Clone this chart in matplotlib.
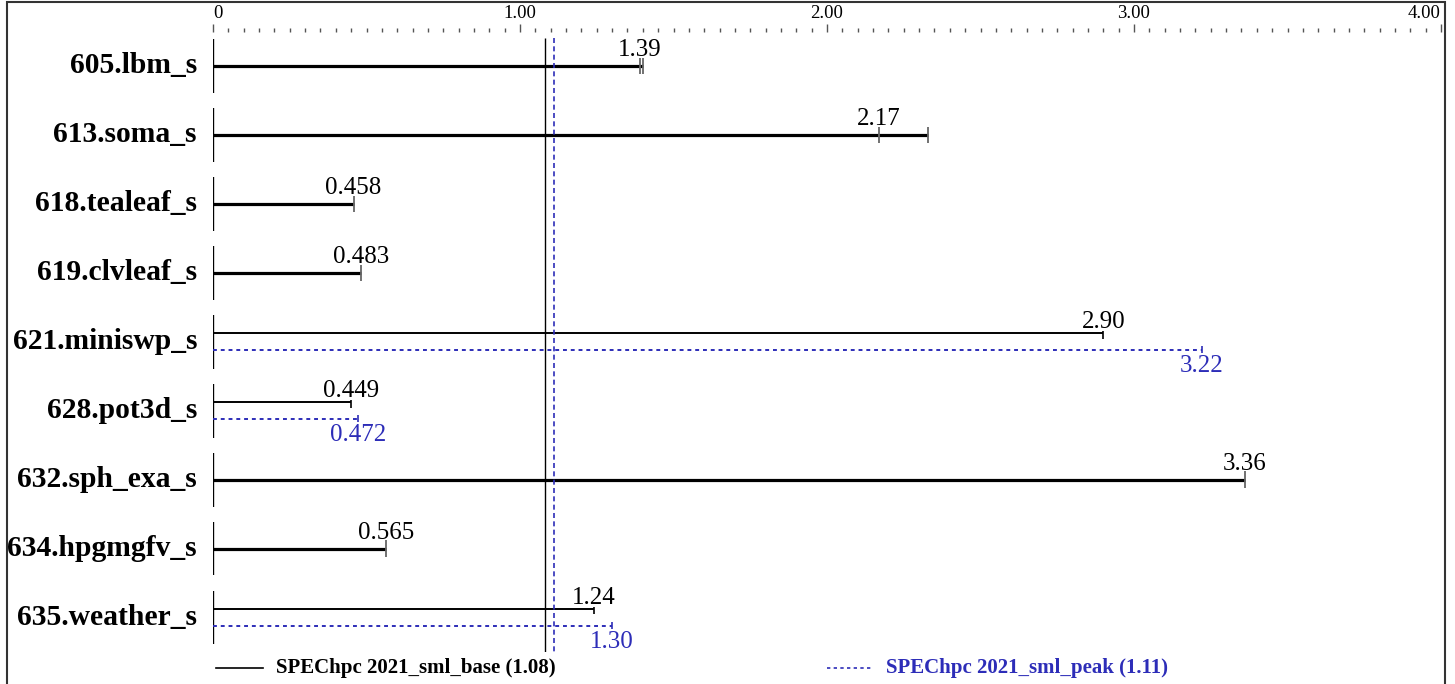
import matplotlib
matplotlib.use("Agg")
import matplotlib.pyplot as plt
from matplotlib.lines import Line2D
from matplotlib.patches import Rectangle

plt.rcParams['font.family'] = ['Liberation Serif', 'DejaVu Serif']

# --- data -------------------------------------------------------------
benchmarks = ['605.lbm_s', '613.soma_s', '618.tealeaf_s', '619.clvleaf_s',
              '621.miniswp_s', '628.pot3d_s', '632.sph_exa_s',
              '634.hpgmgfv_s', '635.weather_s']
base = [1.39, 2.17, 0.458, 0.483, 2.90, 0.449, 3.36, 0.565, 1.24]
peak = [1.39, 2.17, 0.458, 0.483, 3.22, 0.472, 3.36, 0.565, 1.30]
base_labels = ['1.39', '2.17', '0.458', '0.483', '2.90', '0.449', '3.36', '0.565', '1.24']
peak_labels = ['1.39', '2.17', '0.458', '0.483', '3.22', '0.472', '3.36', '0.565', '1.30']
# individual run values (ticks on the bar)
base_runs = [[1.39, 1.40], [2.17, 2.33], [0.458], [0.483], [2.90],
             [0.449], [3.36], [0.565], [1.24]]
peak_runs = [[1.39, 1.40], [2.17, 2.33], [0.458], [0.483], [3.22],
             [0.472], [3.36], [0.565], [1.30]]
base_mean = 1.08
peak_mean = 1.11
base_name = 'SPEChpc 2021_sml_base (1.08)'
peak_name = 'SPEChpc 2021_sml_peak (1.11)'
major_ticks = [0, 1, 2, 3, 4]
major_labels = ['0', '1.00', '2.00', '3.00', '4.00']

BLUE = '#2d2db8'
W, H = 1455, 684

fig = plt.figure(figsize=(W / 100, H / 100), dpi=100)
# x: 0 -> px 213, 4 -> px 1441 ; rows 0..8 at px 66..618
ax = fig.add_axes([213 / W, 1 - 652 / H, 1228 / W, (652 - 31.5) / H])
ax.set_xlim(0, 4)
ax.set_ylim(8.5, -0.5)
for s in ax.spines.values():
    s.set_visible(False)

ax.xaxis.tick_top()
ax.set_xticks(major_ticks)
ax.set_xticklabels(major_labels, fontsize=13.5)
ax.set_xticks([i * 0.05 for i in range(81)], minor=True)
ax.tick_params(axis='x', which='major', length=6, width=1, color='#555', pad=1)
ax.tick_params(axis='x', which='minor', length=3, width=1, color='#555')
ax.set_yticks([])
tl = ax.get_xticklabels()
tl[0].set_ha('left')
tl[-1].set_ha('right')

off = 0.125  # separation of base/peak lines (in rows)
for i, name in enumerate(benchmarks):
    # left marker segment
    ax.vlines(0, i - 0.39, i + 0.39, color='black', lw=1.7)
    ax.annotate(name, xy=(0, i), xytext=(-16, 0), textcoords='offset pixels',
                ha='right', va='center', fontsize=21.3, fontweight='bold')
    if base[i] == peak[i]:
        ax.hlines(i, 0, max(base_runs[i]), color='black', lw=2.3)
        for r in base_runs[i]:
            ax.vlines(r, i - 0.12, i + 0.12, color='#666', lw=1.3)
        ax.annotate(base_labels[i], xy=(base[i], i), xytext=(0, 10),
                    textcoords='offset pixels', ha='center', va='baseline',
                    fontsize=18)
    else:
        yb, yp = i - off, i + off
        ax.hlines(yb, 0, max(base_runs[i]), color='black', lw=1.4)
        for r in base_runs[i]:
            ax.vlines(r, yb - 0.03, yb + 0.08, color='black', lw=1.2)
        ax.hlines(yp, 0, max(peak_runs[i]), color=BLUE, lw=1.4,
                  linestyles=(0, (2, 2)))
        for r in peak_runs[i]:
            ax.vlines(r, yp - 0.06, yp + 0.04, color=BLUE, lw=1.2)
        ax.annotate(base_labels[i], xy=(base[i], yb), xytext=(0, 5),
                    textcoords='offset pixels', ha='center', va='baseline',
                    fontsize=18)
        ax.annotate(peak_labels[i], xy=(peak[i], yp), xytext=(0, -5),
                    textcoords='offset pixels', ha='center', va='top',
                    fontsize=18, color=BLUE)

# geometric mean lines
ax.vlines(base_mean, -0.41, 8.5, color='black', lw=1)
ax.vlines(peak_mean, -0.41, 8.5, color=BLUE, lw=1.2, linestyles=(0, (3, 2)))

# legend
ly = 1 - 668 / H
fig.add_artist(Line2D([216 / W, 263 / W], [ly, ly], color='black', lw=1.2))
fig.text(276 / W, ly, base_name, fontsize=15, fontweight='bold',
         va='center', ha='left')
fig.add_artist(Line2D([827 / W, 871 / W], [ly, ly], color=BLUE, lw=1.2,
                      linestyle=(0, (2, 2))))
fig.text(886 / W, ly, peak_name, fontsize=15, fontweight='bold',
         va='center', ha='left', color=BLUE)

# outer frame
fig.add_artist(Rectangle((7 / W, -0.02), (1445 - 7) / W, 1.02 - 2 / H,
                         transform=fig.transFigure, fill=False,
                         edgecolor='#333', lw=1.5))

fig.savefig('out.png', dpi=100)
